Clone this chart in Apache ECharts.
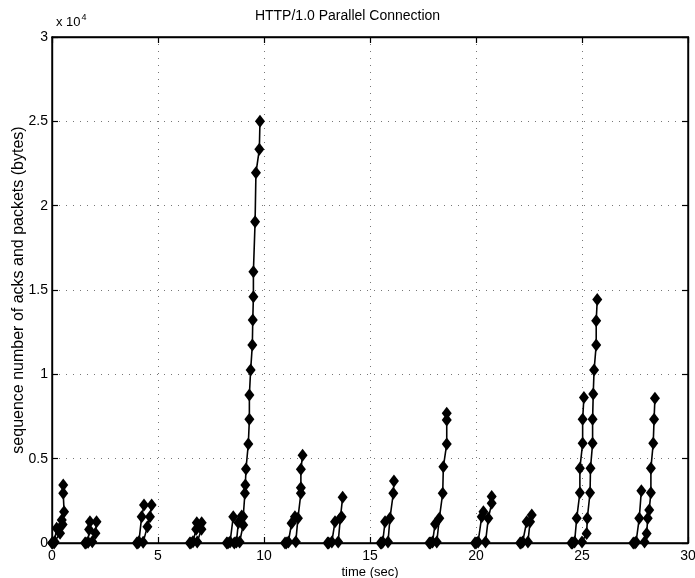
<!DOCTYPE html>
<html><head><meta charset="utf-8">
<script src="https://cdn.jsdelivr.net/npm/echarts@6/dist/echarts.min.js"></script>
<style>html,body{margin:0;padding:0;background:#fff}#c{width:695px;height:578px}</style>
</head><body><div id="c"></div>
<script>
// time (sec), sequence number (bytes) for each connection burst
const conn1a = [[0.0,0],[0.1,0],[0.22,870],[0.46,1360],[0.57,1860],[0.53,2950],[0.53,3440]];
const conn1b = [[0.02,0],[0.12,80],[0.38,580],[0.5,1100]];
const conn2a = [[1.56,0],[1.7,50],[1.75,800],[1.79,1260]];
const conn2b = [[1.6,0],[1.9,80],[2.05,580],[2.1,1260]];
const conn3a = [[4.0,0],[4.1,80],[4.23,1560],[4.34,2250]];
const conn3b = [[4.05,0],[4.3,50],[4.5,970],[4.62,1560],[4.7,2250]];
const conn4a = [[6.5,0],[6.65,80],[6.8,810],[6.83,1200]];
const conn4b = [[6.55,0],[6.85,60],[7.05,810],[7.06,1200]];
const conn5a = [[8.24,0],[8.4,60],[8.55,1560]];
const conn5b = [[8.3,0],[8.7,60],[8.79,1200],[8.95,1600]];
const conn5c = [[8.6,0],[8.85,60],[9.02,1070],[9.02,1560],[9.1,2950],[9.12,3440],[9.15,4390],[9.26,5870],[9.31,7330],[9.31,8770],[9.37,10250],[9.45,11740],[9.47,13220],[9.5,14600],[9.5,16080],[9.58,19050],[9.62,21950],[9.78,23340],[9.81,25000]];
const conn6a = [[10.99,0],[11.15,60],[11.3,1170],[11.46,1560]];
const conn6b = [[11.05,0],[11.5,80],[11.6,1460],[11.74,2950],[11.74,3280],[11.74,4370],[11.82,5200]];
const conn7a = [[13.0,0],[13.2,60],[13.35,1260]];
const conn7b = [[13.05,0],[13.5,60],[13.6,1460],[13.66,1560],[13.71,2710]];
const conn8a = [[15.5,0],[15.6,60],[15.71,1260]];
const conn8b = [[15.55,0],[15.85,60],[15.94,1460],[16.1,2950],[16.13,3680]];
const conn9a = [[17.8,0],[17.95,60],[18.07,1130]];
const conn9b = [[17.85,0],[18.15,60],[18.27,1460],[18.43,2950],[18.46,4520],[18.62,5870],[18.62,7290],[18.62,7690]];
const conn10a = [[19.95,0],[20.1,60],[20.27,1560],[20.35,1860]];
const conn10b = [[20.0,0],[20.45,60],[20.58,1460],[20.74,2350],[20.74,2750]];
const conn11a = [[22.08,0],[22.2,60],[22.39,1260]];
const conn11b = [[22.12,0],[22.45,60],[22.55,1260],[22.63,1660]];
const conn12a = [[24.5,0],[24.65,60],[24.75,1460],[24.9,2980],[24.9,4430],[25.03,5910],[25.03,7330],[25.09,8630]];
const conn12b = [[24.55,0],[25.0,60],[25.22,570],[25.25,1460],[25.38,2980],[25.4,4430],[25.5,5910],[25.5,7330],[25.53,8830],[25.57,10250],[25.67,11740],[25.67,13180],[25.72,14440]];
const conn13a = [[27.42,0],[27.55,60],[27.7,1460],[27.8,3100]];
const conn13b = [[27.5,0],[27.95,60],[28.05,570],[28.1,1460],[28.17,1960],[28.25,2980],[28.25,4430],[28.36,5910],[28.4,7330],[28.44,8580]];

const connections = [conn1a,conn1b,conn2a,conn2b,conn3a,conn3b,conn4a,conn4b,conn5a,conn5b,conn5c,
  conn6a,conn6b,conn7a,conn7b,conn8a,conn8b,conn9a,conn9b,conn10a,conn10b,conn11a,conn11b,
  conn12a,conn12b,conn13a,conn13b];

const xTicks = [0,5,10,15,20,25,30];
const yTickLabels = ['0','0.5','1','1.5','2','2.5','3'];

const FONT = 'Liberation Sans, Arial, sans-serif';
const chart = echarts.init(document.getElementById('c'), null, {renderer:'canvas'});
const axisCommon = {
  axisLine:{show:true, onZero:false, lineStyle:{color:'#000', width:1.4}},
  axisTick:{show:true, inside:true, length:6, lineStyle:{color:'#000', width:1.2}},
};
chart.setOption({
  animation:false,
  backgroundColor:'#fff',
  title:{text:'HTTP/1.0 Parallel Connection', left:'center', top:4,
    textStyle:{fontFamily:FONT, fontSize:14, fontWeight:'normal', color:'#000'}},
  grid:{left:52, right:7, top:37, bottom:35, containLabel:false, outerBoundsMode:'none',
    show:true, borderColor:'#000', borderWidth:1.4},
  graphic:[{type:'text', left:56, top:13, style:{
    text:'{a|x 10}{b|4}', fill:'#000',
    rich:{a:{fontFamily:FONT, fontSize:13, fill:'#000'}, b:{fontFamily:FONT, fontSize:9, fill:'#000', verticalAlign:'top', padding:[0,0,9,1]}}
  }}],
  xAxis:[
    Object.assign({type:'value', min:xTicks[0], max:xTicks[xTicks.length-1], interval:5,
      name:'time (sec)', nameLocation:'middle', nameGap:23, nameMoveOverlap:false,
      nameTextStyle:{fontFamily:FONT, fontSize:13, color:'#000'},
      axisLabel:{fontFamily:FONT, fontSize:14, color:'#000', margin:6},
      splitLine:{show:true, lineStyle:{type:[1,6], color:'#777', width:1}}}, axisCommon),
    Object.assign({type:'value', position:'top', min:0, max:30, interval:5,
      axisLabel:{show:false}, splitLine:{show:false}}, axisCommon)
  ],
  yAxis:[
    Object.assign({type:'value', min:0, max:30000, interval:5000,
      name:'sequence number of acks and packets (bytes)', nameLocation:'middle', nameGap:25, nameMoveOverlap:false,
      nameTextStyle:{fontFamily:FONT, fontSize:16, color:'#000'},
      axisLabel:{fontFamily:FONT, fontSize:14, color:'#000', margin:4,
        formatter:(v)=>yTickLabels[Math.round(v/5000)]},
      splitLine:{show:true, lineStyle:{type:[1,6], color:'#777', width:1}}}, axisCommon),
    Object.assign({type:'value', position:'right', min:0, max:30000, interval:5000,
      axisLabel:{show:false}, splitLine:{show:false}}, axisCommon)
  ],
  series: connections.map((d,i)=>({
    type:'line', data:d, xAxisIndex:0, yAxisIndex:0,
    symbol:'diamond', symbolSize:[10,13], showSymbol:true,
    lineStyle:{color:'#000', width:1.6}, itemStyle:{color:'#000'},
    z:3
  }))
});
</script></body></html>
